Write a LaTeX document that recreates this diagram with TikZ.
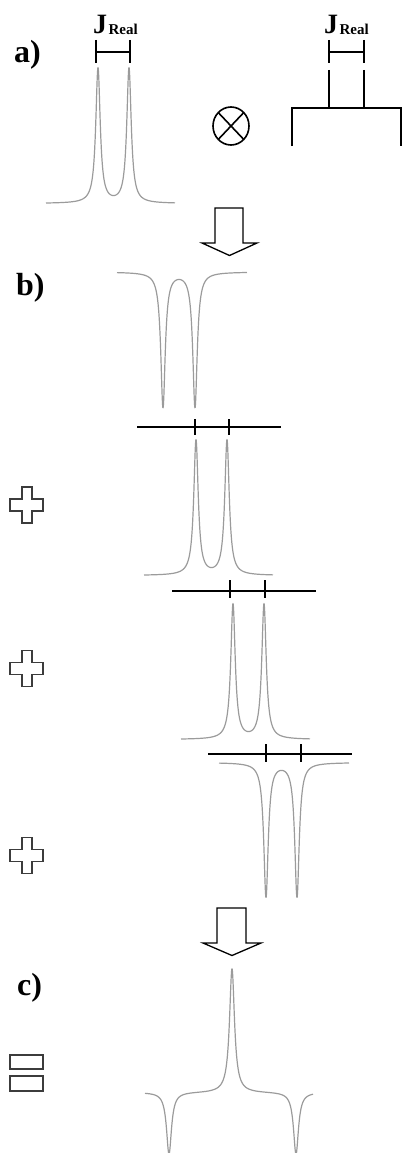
\documentclass[tikz,border=0pt]{standalone}
\usepackage{fontspec}
\setmainfont{Liberation Serif}
\usetikzlibrary{calc}
\definecolor{specgray}{RGB}{155,155,155}
\definecolor{opgray}{RGB}{60,60,60}
\begin{document}
\begin{tikzpicture}[x=1pt,y=-1pt,
  declare function={lor(\u,\g)=1/(1+(\u/\g)*(\u/\g));},
  stick/.style={line width=1.8pt, black},
  spec/.style={line width=1.2pt, specgray, line join=round},
  blockarrow/.style={draw=black, line width=1.3pt, line join=miter, fill=white},
  opsign/.style={draw=opgray, line width=1.3pt, line join=miter},
  lbl/.style={font=\fontsize{32}{32}\selectfont\bfseries, inner sep=0pt, anchor=base west},
  jbig/.style={font=\fontsize{28}{28}\selectfont\bfseries, inner sep=0pt, anchor=base west},
  jsub/.style={font=\fontsize{15}{15}\selectfont\bfseries, inner sep=0pt, anchor=base west}
]
\useasboundingbox (0,0) rectangle (405,1153);

% ---------- labels ----------
\node[lbl] (la) at (14,63) {a)};
\node[lbl] (lb) at (16,295) {b)};
\node[lbl] (lc) at (17,995) {c)};

% ---------- a) left doublet with J bracket ----------
\node[jbig] (jl) at (93,34) {J};
\node[jsub] (jlr) at ($(jl.base east)+(1,1)$) {Real};
\draw[stick, line width=1.3pt] (96,40) -- (96,63) (130,40) -- (130,63) (96,52) -- (130,52);
\draw[spec] plot[domain=46:175, samples=500] (\x, {203.5 - 135*(lor(\x-98,2.7)+lor(\x-129,2.7))});

% otimes
\coordinate (ot) at (231,126);
\draw[line width=1.6pt] (ot) ellipse [x radius=18, y radius=19];
\draw[line width=1.6pt] ($(ot)+(-12.7,-13.4)$) -- ($(ot)+(12.7,13.4)$)
                        ($(ot)+(-12.7,13.4)$) -- ($(ot)+(12.7,-13.4)$);

% ---------- a) right stick tree ----------
\node[jbig] (jr) at (324,34) {J};
\node[jsub] (jrr) at ($(jr.base east)+(1,1)$) {Real};
\draw[stick, line width=1.3pt] (329,40) -- (329,63) (364,40) -- (364,63) (329,52) -- (364,52);
\draw[stick] (329,70) -- (329,108) (364,70) -- (364,108);
\draw[stick, line join=miter] (292,146) -- (292,108) -- (401,108) -- (401,146);

% ---------- arrow 1 ----------
\draw[blockarrow] (215,208) -- (243,208) -- (243,243) -- (257,243) -- (229.5,255.5) -- (202,243) -- (215,243) -- cycle;

% ---------- b) inverted doublet ----------
\draw[spec] plot[domain=117:247, samples=500] (\x, {272 + 135*(lor(\x-163,2.7)+lor(\x-195,2.7))});

% stick line 1 + doublet
\draw[stick] (137,427) -- (281,427) (195,419) -- (195,435) (229,419) -- (229,435);
\draw[spec] plot[domain=144:273, samples=500] (\x, {575.5 - 135*(lor(\x-196,2.7)+lor(\x-227,2.7))});

% stick line 2 + doublet
\draw[stick] (172,591) -- (316,591) (230,580) -- (230,598) (265,580) -- (265,598);
\draw[spec] plot[domain=181:310, samples=500] (\x, {739.5 - 135*(lor(\x-233,2.7)+lor(\x-264,2.7))});

% stick line 3 + inverted doublet
\draw[stick] (208,754) -- (352,754) (266,744) -- (266,762) (301,744) -- (301,762);
\draw[spec] plot[domain=219:349, samples=500] (\x, {762.5 + 134*(lor(\x-266,2.7)+lor(\x-297,2.7))});

% plus signs
\foreach \cy [count=\i] in {505,668.5,855.5}{
  \draw[opsign] (22,\cy-18) -- (32,\cy-18) -- (32,\cy-6) -- (43,\cy-6) -- (43,\cy+6) -- (32,\cy+6)
     -- (32,\cy+18) -- (22,\cy+18) -- (22,\cy+6) -- (10,\cy+6) -- (10,\cy-6) -- (22,\cy-6) -- cycle;
}

% ---------- arrow 2 ----------
\draw[blockarrow] (217,908) -- (246,908) -- (246,943) -- (261,943) -- (232,955.5) -- (203,943) -- (217,943) -- cycle;

% ---------- c) result ----------
\begin{scope}
\clip (0,0) rectangle (405,1153);
\draw[spec] plot[domain=145:313, samples=700] (\x, {1092.5 - 124*lor(\x-232,3) + 62*(lor(\x-169,3)+lor(\x-296,3))});
\end{scope}

% equals sign
\draw[opsign] (10,1055) rectangle (43,1069);
\draw[opsign] (10,1076) rectangle (43,1091);
\end{tikzpicture}
\end{document}
